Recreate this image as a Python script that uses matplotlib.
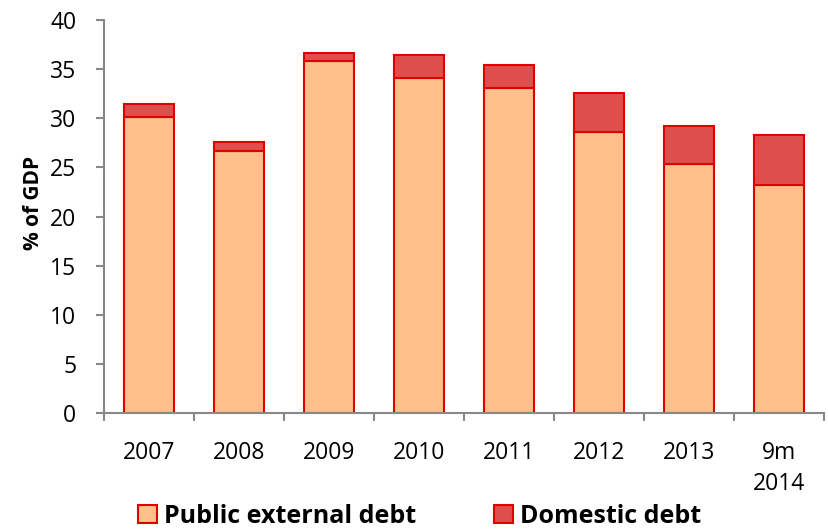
import matplotlib
matplotlib.use("Agg")
import matplotlib.pyplot as plt
import numpy as np

categories = ["2007", "2008", "2009", "2010", "2011", "2012", "2013", "9m\n2014"]
external = [30.15, 26.7, 35.8, 34.1, 33.1, 28.6, 25.3, 23.2]
total = [31.4, 27.6, 36.65, 36.4, 35.4, 32.6, 29.2, 28.3]
domestic = [t - e for t, e in zip(total, external)]

plt.rcParams['font.family'] = ['Open Sans', 'DejaVu Sans']

fig = plt.figure(figsize=(8.29, 5.31), dpi=100)
ax = fig.add_axes([104 / 829, 1 - 413 / 531, 720 / 829, 393 / 531])

x = np.arange(len(categories))
edge = "#E00000"
ax.bar(x, external, width=0.555, color="#FFC08C", edgecolor=edge, linewidth=1.5,
       label="Public external debt")
ax.bar(x, domestic, bottom=external, width=0.555, color="#DE4E4C", edgecolor=edge,
       linewidth=1.5, label="Domestic debt")

ax.set_xlim(-0.5, len(categories) - 0.5)
ax.set_ylim(0, 40)
ax.set_yticks(range(0, 41, 5))
ax.set_xticks(x)
ax.set_xticklabels(categories, fontsize=16.5, linespacing=1.4, va="top")
ax.set_xticks(np.arange(-0.5, len(categories), 1), minor=True)
ax.tick_params(axis="x", which="major", length=0, pad=20)
ax.tick_params(axis="x", which="minor", length=6, color="#888888", width=1.5)
ax.tick_params(axis="y", length=6, color="#888888", width=1.5, labelsize=16.5, pad=14)

for s in ["top", "right"]:
    ax.spines[s].set_visible(False)
for s in ["left", "bottom"]:
    ax.spines[s].set_color("#888888")
    ax.spines[s].set_linewidth(1.5)

ax.set_ylabel("% of GDP", fontsize=15, fontweight="bold")
ax.yaxis.set_label_coords(-0.083, 0.534)

fig.legend(loc="center", bbox_to_anchor=(0.506, 0.028), ncol=2, frameon=False,
           prop={"size": 18, "weight": "bold"}, handlelength=0.76, handleheight=0.76,
           handletextpad=0.3, columnspacing=3.1, borderpad=0, borderaxespad=0)

fig.savefig("out.png", dpi=100)
